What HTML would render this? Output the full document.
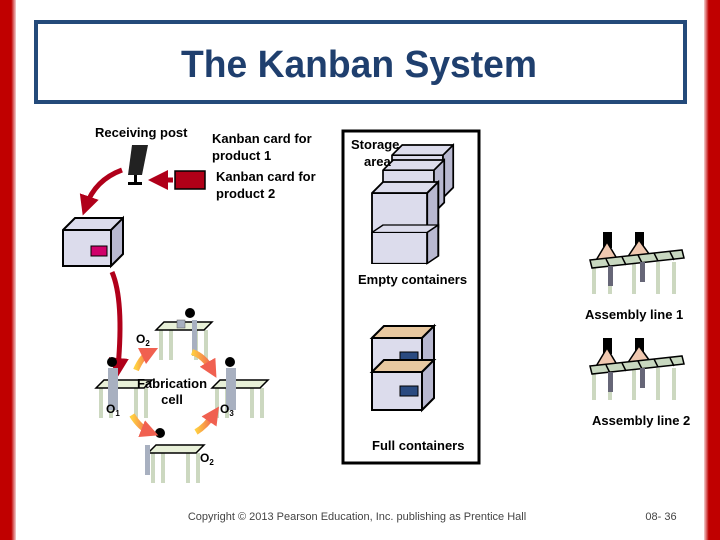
<!DOCTYPE html>
<html><head><meta charset="utf-8"><style>
html,body{margin:0;padding:0;background:#fff}
svg{display:block}
text{font-family:"Liberation Sans",Arial,sans-serif;font-weight:bold;font-size:13px;fill:#000}
</style></head><body>
<svg width="720" height="540" viewBox="0 0 720 540" xmlns="http://www.w3.org/2000/svg">
<defs>
<linearGradient id="lg" x1="0" x2="1"><stop offset="0" stop-color="#c00000"/><stop offset="0.7" stop-color="#c00000"/><stop offset="1" stop-color="#f4d0d0"/></linearGradient>
<linearGradient id="rg" x1="1" x2="0"><stop offset="0" stop-color="#c00000"/><stop offset="0.7" stop-color="#c00000"/><stop offset="1" stop-color="#f4d0d0"/></linearGradient>
<linearGradient id="og" x1="0" x2="1"><stop offset="0" stop-color="#ffd040"/><stop offset="1" stop-color="#f06050"/></linearGradient>
<marker id="ar" markerWidth="4" markerHeight="4" refX="2" refY="2" orient="auto" markerUnits="strokeWidth"><path d="M0,0 L4,2 L0,4z" fill="#b0001a"/></marker>
<marker id="ao" markerWidth="3" markerHeight="3" refX="1.5" refY="1.5" orient="auto" markerUnits="strokeWidth"><path d="M0,0 L3,1.5 L0,3z" fill="#f06050"/></marker>
<g id="box"><path d="M0,12 L12,0 L72,0 L72,50 L60,62 L0,62z" fill="#dcdcec" stroke="#000" stroke-width="2"/><path d="M0,12 L60,12 L60,62 M60,12 L72,0" fill="none" stroke="#000" stroke-width="2"/><path d="M60,12 L72,0 L72,50 L60,62z" fill="#b8b8d0" stroke="#000" stroke-width="2"/></g>
<g id="fbox"><path d="M0,12 L12,0 L62,0 L62,38 L50,50 L0,50z" fill="#dcdcec" stroke="#000" stroke-width="2"/><path d="M0,12 L12,0 L62,0 L50,12z" fill="#e8c8a0" stroke="#000" stroke-width="2"/><path d="M50,12 L62,0 L62,38 L50,50z" fill="#b8b8d0" stroke="#000" stroke-width="2"/><path d="M0,12 L50,12 L50,50" fill="none" stroke="#000" stroke-width="2"/><rect x="28" y="26" width="18" height="10" fill="#2a4a80" stroke="#000"/></g>
<g id="asm"><g stroke="#ccd8c0" stroke-width="4"><line x1="8" y1="30" x2="8" y2="62"/><line x1="24" y1="30" x2="24" y2="62"/><line x1="48" y1="30" x2="48" y2="62"/><line x1="72" y1="30" x2="72" y2="62"/><line x1="88" y1="30" x2="88" y2="62"/></g>
<rect x="17" y="0" width="9" height="16" fill="#000"/><rect x="49" y="0" width="9" height="16" fill="#000"/>
<path d="M9,30 L21,10 L33,30 M41,26 L53,8 L66,26" fill="#f0c8b0" stroke="#000" stroke-width="1.5"/>
<path d="M4,28 L96,18 L98,26 L6,36z" fill="#c8d8c0" stroke="#000" stroke-width="1.5"/>
<g stroke="#000" stroke-width="1.5"><line x1="20" y1="27" x2="24" y2="35"/><line x1="36" y1="25" x2="40" y2="33"/><line x1="52" y1="23" x2="56" y2="31"/><line x1="68" y1="21" x2="72" y2="29"/><line x1="84" y1="20" x2="88" y2="28"/></g>
<rect x="22" y="34" width="5" height="20" fill="#667"/><rect x="54" y="30" width="5" height="20" fill="#667"/></g>
<g id="wk"><g stroke="#ccd8c0" stroke-width="4"><line x1="5" y1="10" x2="5" y2="40"/><line x1="15" y1="10" x2="15" y2="40"/><line x1="40" y1="10" x2="40" y2="40"/><line x1="50" y1="10" x2="50" y2="40"/></g><path d="M0,10 L8,2 L56,2 L48,10z" fill="#e8f0d8" stroke="#000" stroke-width="1.5"/></g>
</defs>
<rect x="0" y="0" width="16" height="540" fill="url(#lg)"/>
<rect x="704" y="0" width="16" height="540" fill="url(#rg)"/>
<rect x="36" y="22" width="649" height="80" fill="none" stroke="#244a7a" stroke-width="4"/>
<text x="181" y="77" textLength="356" lengthAdjust="spacingAndGlyphs" style="font-family:'Liberation Sans Narrow','Liberation Sans',sans-serif;font-size:38px;fill:#1f3f6e;font-weight:bold">The Kanban System</text>

<text x="95" y="137">Receiving post</text>
<text x="212" y="143">Kanban card for</text><text x="212" y="160">product 1</text>
<text x="216" y="181">Kanban card for</text><text x="216" y="198">product 2</text>
<g transform="translate(126,145)"><path d="M6,0 L22,0 L16,30 L2,30z" fill="#222"/><rect x="8" y="30" width="3" height="8" fill="#000"/><rect x="2" y="37" width="14" height="3" fill="#000"/></g>
<rect x="175" y="171" width="30" height="18" fill="#b00018" stroke="#000" stroke-width="1.5"/>
<path d="M173,180 L158,180" stroke="#b0001a" stroke-width="5" marker-end="url(#ar)"/>
<path d="M122,170 Q95,180 86,206" fill="none" stroke="#b0001a" stroke-width="5" marker-end="url(#ar)"/>
<g transform="translate(63,218)"><path d="M0,12 L12,0 L60,0 L60,36 L48,48 L0,48z" fill="#dcdcec" stroke="#000" stroke-width="2"/><path d="M48,12 L60,0 L60,36 L48,48z" fill="#b8b8d0" stroke="#000" stroke-width="2"/><path d="M0,12 L48,12 L48,48" fill="none" stroke="#000" stroke-width="2"/><rect x="28" y="28" width="16" height="10" fill="#d0006a" stroke="#000"/></g>
<path d="M112,272 Q124,300 118,368" fill="none" stroke="#b0001a" stroke-width="5" marker-end="url(#ar)"/>

<rect x="343" y="131" width="136" height="332" fill="none" stroke="#000" stroke-width="3"/>
<use href="#box" transform="translate(392,145) scale(0.85)"/>
<use href="#box" transform="translate(383,160) scale(0.85)"/>
<use href="#box" transform="translate(372,182) scale(0.92)"/>
<use href="#box" transform="translate(372,225) scale(0.92,0.62)"/>
<text x="351" y="149">Storage</text><text x="364" y="166">area</text>
<text x="358" y="284">Empty containers</text>
<use href="#fbox" transform="translate(372,326)"/>
<use href="#fbox" transform="translate(372,360)"/>
<text x="372" y="450">Full containers</text>

<use href="#wk" transform="translate(156,320)"/>
<use href="#wk" transform="translate(96,378)"/>
<use href="#wk" transform="translate(212,378)"/>
<use href="#wk" transform="translate(148,443)"/>
<g fill="#000"><circle cx="190" cy="313" r="5"/><circle cx="112" cy="362" r="5"/><circle cx="230" cy="362" r="5"/><circle cx="160" cy="433" r="5"/></g>
<g fill="#a8b0c0"><rect x="192" y="320" width="5" height="36"/><rect x="108" y="368" width="10" height="42"/><rect x="226" y="368" width="10" height="42"/><rect x="145" y="445" width="5" height="30"/></g>
<rect x="177" y="320" width="8" height="8" fill="#a8b0c0" stroke="#555" stroke-width="0.5"/>
<g fill="none" stroke="url(#og)" stroke-width="6">
<path d="M136,370 Q142,356 150,352" marker-end="url(#ao)"/>
<path d="M192,352 Q204,356 212,370" marker-end="url(#ao)"/>
<path d="M132,415 Q140,428 150,432" marker-end="url(#ao)"/>
<path d="M196,432 Q206,426 214,414" marker-end="url(#ao)"/>
</g>
<text x="172" y="388" text-anchor="middle">Fabrication</text>
<text x="172" y="404" text-anchor="middle">cell</text>
<text x="136" y="343" style="font-size:12px">O<tspan font-size="8" dy="3">2</tspan></text>
<text x="106" y="413" style="font-size:12px">O<tspan font-size="8" dy="3">1</tspan></text>
<text x="220" y="413" style="font-size:12px">O<tspan font-size="8" dy="3">3</tspan></text>
<text x="200" y="462" style="font-size:12px">O<tspan font-size="8" dy="3">2</tspan></text>

<use href="#asm" transform="translate(586,232)"/>
<text x="585" y="319">Assembly line 1</text>
<use href="#asm" transform="translate(586,338)"/>
<text x="592" y="425">Assembly line 2</text>

<text x="357" y="520" text-anchor="middle" style="font-weight:normal;font-size:11px;fill:#444">Copyright © 2013 Pearson Education, Inc. publishing as Prentice Hall</text>
<text x="661" y="520" text-anchor="middle" style="font-weight:normal;font-size:11px;fill:#444">08- 36</text>
</svg>
</body></html>
